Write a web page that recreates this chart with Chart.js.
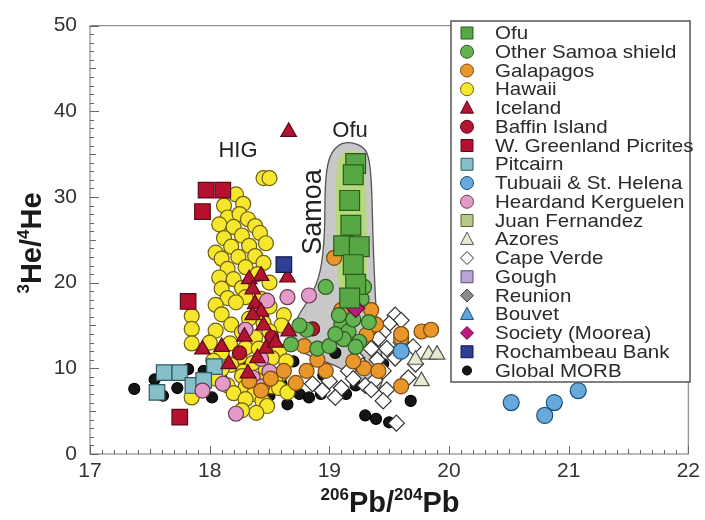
<!DOCTYPE html>
<html>
<head>
<meta charset="utf-8">
<script src="https://cdn.jsdelivr.net/npm/chart.js@4.4.0/dist/chart.umd.min.js"></script>
<style>
  html, body { margin: 0; padding: 0; background: #fff; }
  #wrap { width: 705px; height: 520px; }
</style>
</head>
<body>
<div id="wrap"><canvas id="chart" width="705" height="520"></canvas></div>
<script>
// axis ranges / ticks
const xRange = [17, 22];
const yRange = [0, 50];

// series values: [206Pb/204Pb, 3He/4He]
const ofu = [[19.22,33.9],[19.2,32.6],[19.17,29.6],[19.18,26.7],[19.12,24.3],[19.25,24.2],[19.2,22.1],[19.22,19.8],[19.17,18.2]];
const samoaShield = [[18.97,19.5],[18.81,14.5],[18.9,12.3],[19.0,12.6],[18.68,12.8],[19.1,15.1],[19.08,16.2],[19.16,14.3],[19.25,13.1],[19.27,18.1],[19.29,19.5],[19.2,15.7],[19.12,13.4],[19.33,15.4],[19.05,14.0],[19.22,12.5],[18.75,15.0]];
const galapagos = [[19.04,22.9],[19.1,16.8],[19.35,16.8],[19.39,15.1],[19.31,13.9],[19.6,13.5],[19.77,14.3],[19.85,14.5],[18.79,12.6],[18.62,9.7],[18.81,9.7],[18.97,9.7],[18.51,8.8],[18.72,8.3],[19.29,10.0],[19.6,7.9],[19.6,14.0],[18.33,8.5],[18.43,7.4],[19.41,9.7],[19.2,10.8],[18.9,11.0]];
const hawaii = [[18.45,32.2],[18.5,32.2],[18.22,30.3],[18.12,29.0],[18.28,29.2],[18.15,27.6],[18.25,28.0],[18.32,27.4],[18.08,26.8],[18.2,26.5],[18.38,26.6],
  [18.12,25.2],[18.27,25.5],[18.42,25.8],[18.18,24.2],[18.33,24.3],[18.47,24.6],[18.05,23.5],[18.1,22.8],[18.24,23.0],[18.38,23.1],[18.15,21.6],[18.3,21.8],[18.45,22.3],
  [18.08,20.6],[18.2,20.4],[18.27,19.4],[18.4,21.0],[18.1,19.3],[18.5,20.0],[18.15,18.2],[18.3,18.3],[18.43,18.1],[18.05,17.4],[18.22,17.7],[18.5,17.2],[18.62,16.2],
  [17.85,16.1],[18.1,16.3],[18.33,15.8],[18.18,15.1],[18.45,15.3],[18.6,15.0],[17.85,14.6],[18.05,14.4],[18.27,14.2],[18.5,14.3],[18.38,13.6],
  [17.85,12.9],[18.0,13.0],[18.17,12.9],[18.3,12.4],[18.41,12.3],[18.58,12.0],[18.1,11.8],[18.25,11.4],[18.52,11.2],[18.64,10.8],[18.03,10.9],[18.18,10.4],[18.36,10.6],
  [18.1,9.9],[18.28,9.6],[18.47,9.8],[18.6,9.4],[18.27,9.1],[18.05,8.8],[18.4,8.6],[18.55,8.5],[18.15,8.0],[18.3,7.8],[18.52,7.9],[18.58,7.7],[18.2,7.1],[18.37,7.0],[18.65,7.2],
  [17.85,6.6],[18.3,6.4],[18.44,6.2],[18.48,5.6],[18.39,4.8],[18.27,5.1]];
const iceland = [[18.66,37.6],[18.65,20.6],[18.43,20.8],[18.33,20.4],[18.36,19.2],[18.38,17.5],[18.43,16.6],[18.36,16.2],[18.29,13.7],[18.66,14.3],[18.47,12.3],[17.94,12.2],[18.16,10.5],[18.55,13.0],[18.45,15.0],[18.4,11.2],[18.32,9.4],[18.1,12.5]];
const baffin = [[18.86,14.6],[18.52,13.6],[18.25,11.8]];
const greenland = [[17.97,30.8],[18.11,30.8],[17.94,28.3],[17.82,17.8],[17.75,4.3]];
const pitcairn = [[17.62,9.5],[17.75,9.5],[17.56,7.2],[17.86,8.0],[18.04,10.2],[17.95,8.6]];
const tubuaii = [[20.52,6.0],[20.8,4.5],[20.88,6.0],[21.08,7.4],[19.6,12.0]];
const heard = [[18.65,18.3],[18.83,18.5],[18.48,17.9],[18.3,14.5],[18.43,11.1],[18.36,8.9],[18.44,7.9],[18.22,4.7],[17.94,7.4],[18.11,8.2],[18.5,9.6]];
const juanFernandez = [];
const azores = [[19.83,11.6],[19.9,11.6],[19.77,8.5],[19.72,11.0]];
const capeVerde = [[19.55,16.2],[19.6,15.6],[19.5,15.2],[19.45,14.2],[19.41,13.5],[19.35,12.3],[19.48,12.3],[19.55,11.2],[19.23,11.2],[19.4,11.0],[19.28,10.3],[19.16,9.7],[19.45,9.7],
  [19.0,8.5],[19.2,8.8],[19.38,8.6],[19.1,7.7],[19.3,8.0],[19.35,7.5],[19.48,7.5],[19.05,6.6],[19.45,6.2],[19.72,10.5],[19.66,8.9],[19.56,3.6],[18.94,7.4],[18.86,8.2],[19.6,13.0],[19.7,12.5]];
const gough = [];
const reunion = [];
const bouvet = [];
const society = [[19.22,17.0]];
const rochambeau = [[18.62,22.1]];
const morb = [[17.37,7.6],[17.54,8.7],[17.61,6.8],[17.73,7.7],[17.82,9.9],[17.9,8.2],[18.02,6.6],[18.1,8.8],[18.2,7.3],[18.18,10.5],[18.31,10.5],[18.3,7.0],[18.5,6.8],[18.6,8.2],[18.7,10.8],
  [18.75,7.0],[18.83,6.6],[18.93,7.0],[19.05,11.8],[19.14,7.0],[19.22,8.0],[19.3,4.5],[19.39,4.1],[19.5,3.7],[19.68,6.2],[18.45,9.3],[18.95,9.2],[19.45,10.5],[17.95,9.7],[18.65,5.8]];

// outlines of the Samoa envelope and Ofu field (data units)
const samoaField = [[19.163,36.41],[19.263,36.06],[19.329,35.02],[19.354,31.57],[19.363,25.81],[19.379,20.05],[19.396,15.44],[19.438,11.98],[19.454,8.53],[19.396,7.14],[19.288,7.95],[19.121,9.91],[18.913,11.06],[18.747,11.98],[18.681,13.71],[18.73,16.01],[18.847,18.32],[18.93,21.2],[18.963,25.81],[18.963,31.57],[18.997,34.79],[19.08,36.18]];
const ofuField = [[19.121,35.37],[19.246,35.37],[19.304,33.87],[19.313,25.81],[19.313,17.74],[19.205,17.17],[19.08,17.74],[19.055,25.81],[19.055,33.87]];

const FONT = "'Liberation Sans', Arial, Helvetica, sans-serif";

// label, data, pointStyle, fill, stroke, radius, draw order (lower = on top)
const seriesDefs = [
  ['Ofu', ofu, 'rect', '#57a844', '#2c5a1f', 14, 0],
  ['Other Samoa shield', samoaShield, 'circle', '#63b450', '#2f5a25', 7.5, 6],
  ['Galapagos', galapagos, 'circle', '#e9962b', '#7a4a12', 7.5, 8],
  ['Hawaii', hawaii, 'circle', '#f6e72c', '#6e5f12', 7.5, 12],
  ['Iceland', iceland, 'triangle', '#b3142f', '#5a0a18', 9, 5],
  ['Baffin Island', baffin, 'circle', '#b3142f', '#5a0a18', 7, 7],
  ['W. Greenland Picrites', greenland, 'rect', '#b5112e', '#5a0a18', 11, 4],
  ['Pitcairn', pitcairn, 'rect', '#86bfc8', '#2f5a60', 11, 11],
  ['Tubuaii & St. Helena', tubuaii, 'circle', '#66a9dc', '#1f4f70', 8, 3],
  ['Heardand Kerguelen', heard, 'circle', '#e59bc7', '#6a3a55', 7.5, 9],
  ['Juan Fernandez', juanFernandez, 'rect', '#b6c98a', '#55613a', 10, 10],
  ['Azores', azores, 'triangle', '#e6ead0', '#555555', 9, 13],
  ['Cape Verde', capeVerde, 'rectRot', '#ffffff', '#333333', 8, 14],
  ['Gough', gough, 'rect', '#b8a4d6', '#5a4a70', 10, 10],
  ['Reunion', reunion, 'rectRot', '#8a8a8a', '#444444', 7, 10],
  ['Bouvet', bouvet, 'triangle', '#5aa6e0', '#1f4f70', 9, 10],
  ['Society (Moorea)', society, 'rectRot', '#c0187d', '#5a0a3a', 9, 2],
  ['Rochambeau Bank', rochambeau, 'rect', '#2e3f94', '#111a4a', 11, 1],
  ['Global MORB', morb, 'circle', '#151515', '#000000', 5.5, 15]
];

const datasets = seriesDefs.map(([label, pts, style, fill, stroke, r, order]) => ({
  label: label,
  data: pts.map(p => ({ x: p[0], y: p[1] })),
  pointStyle: style,
  backgroundColor: fill,
  borderColor: stroke,
  pointRadius: r,
  pointHoverRadius: r,
  pointBorderWidth: 1.2,
  order: order
}));

function toPx(chart, pts) {
  const xs = chart.scales.x, ys = chart.scales.y;
  return pts.map(p => [xs.getPixelForValue(p[0]), ys.getPixelForValue(p[1])]);
}

function smoothClosed(ctx, pts) {
  const n = pts.length;
  const mid = (a, b) => [(a[0] + b[0]) / 2, (a[1] + b[1]) / 2];
  const m0 = mid(pts[n - 1], pts[0]);
  ctx.moveTo(m0[0], m0[1]);
  for (let i = 0; i < n; i++) {
    const p = pts[i], m = mid(p, pts[(i + 1) % n]);
    ctx.quadraticCurveTo(p[0], p[1], m[0], m[1]);
  }
  ctx.closePath();
}

function drawMarker(ctx, style, x, y, r, fill, stroke) {
  ctx.beginPath();
  if (style === 'rect') ctx.rect(x - r, y - r, 2 * r, 2 * r);
  else if (style === 'triangle') {
    ctx.moveTo(x, y - r * 1.1); ctx.lineTo(x + r, y + r * 0.8); ctx.lineTo(x - r, y + r * 0.8); ctx.closePath();
  } else if (style === 'rectRot') {
    ctx.moveTo(x, y - r); ctx.lineTo(x + r, y); ctx.lineTo(x, y + r); ctx.lineTo(x - r, y); ctx.closePath();
  } else ctx.arc(x, y, r, 0, Math.PI * 2);
  ctx.fillStyle = fill; ctx.fill();
  ctx.lineWidth = 1; ctx.strokeStyle = stroke; ctx.stroke();
}

// text with superscript parts, centred on x
function drawSupText(ctx, parts, x, y, size, supSize) {
  const big = 'bold ' + size + 'px ' + FONT, small = 'bold ' + supSize + 'px ' + FONT;
  let w = 0;
  parts.forEach(p => { ctx.font = p[1] ? small : big; w += ctx.measureText(p[0]).width; });
  let cx = x - w / 2;
  ctx.textAlign = 'left';
  ctx.textBaseline = 'alphabetic';
  parts.forEach(p => {
    ctx.font = p[1] ? small : big;
    ctx.fillText(p[0], cx, p[1] ? y - size * 0.42 : y);
    cx += ctx.measureText(p[0]).width;
  });
}

const backdrop = {
  id: 'backdrop',
  beforeDatasetsDraw(chart) {
    const ctx = chart.ctx, a = chart.chartArea;
    const xs = chart.scales.x, ys = chart.scales.y;
    ctx.save();
    // Samoa envelope
    ctx.beginPath();
    smoothClosed(ctx, toPx(chart, samoaField));
    ctx.fillStyle = '#c8c8c8'; ctx.fill();
    ctx.lineWidth = 1.3; ctx.strokeStyle = '#555'; ctx.stroke();
    ctx.beginPath();
    smoothClosed(ctx, toPx(chart, ofuField));
    ctx.fillStyle = '#b7d97c'; ctx.fill();
    // frame
    ctx.strokeStyle = '#8a8a8a'; ctx.lineWidth = 1.2;
    ctx.strokeRect(a.left, a.top, a.right - a.left, a.bottom - a.top);
    // inner ticks
    ctx.strokeStyle = '#666'; ctx.lineWidth = 1;
    ctx.beginPath();
    for (let i = 0; i <= 50; i++) {
      const px = Math.round(xs.getPixelForValue(xRange[0] + i * 0.1)) + 0.5;
      const len = i % 10 === 0 ? 8 : (i % 5 === 0 ? 5 : 4);
      ctx.moveTo(px, a.bottom); ctx.lineTo(px, a.bottom - len);
      const py = Math.round(ys.getPixelForValue(i)) + 0.5;
      const ylen = i % 10 === 0 ? 9 : (i % 5 === 0 ? 6 : 4);
      ctx.moveTo(a.left, py); ctx.lineTo(a.left + ylen, py);
    }
    ctx.stroke();
    ctx.restore();
  },
  afterDatasetsDraw(chart) {
    const ctx = chart.ctx;
    ctx.save();
    ctx.fillStyle = '#222';
    // annotations
    ctx.font = '22px ' + FONT;
    ctx.textAlign = 'center'; ctx.textBaseline = 'middle';
    ctx.fillText('HIG', 238, 151);
    ctx.fillText('Ofu', 350, 131);
    ctx.save();
    ctx.translate(321, 212); ctx.rotate(-Math.PI / 2);
    ctx.font = '27px ' + FONT; ctx.textBaseline = 'alphabetic';
    ctx.fillText('Samoa', 0, 0);
    ctx.restore();
    // axis titles
    ctx.fillStyle = '#1a1a1a';
    drawSupText(ctx, [['206', true], ['Pb/', false], ['204', true], ['Pb', false]], 390, 512, 29, 17);
    ctx.save();
    ctx.translate(41, 243); ctx.rotate(-Math.PI / 2);
    drawSupText(ctx, [['3', true], ['He/', false], ['4', true], ['He', false]], 0, 0, 29, 17);
    ctx.restore();
    // legend
    const lx = 451, ly = 21, lw = 239, lh = 361;
    ctx.fillStyle = '#fff';
    ctx.fillRect(lx, ly, lw, lh);
    ctx.strokeStyle = '#555'; ctx.lineWidth = 1.5;
    ctx.strokeRect(lx, ly, lw, lh);
    ctx.font = '19px ' + FONT;
    ctx.textAlign = 'left'; ctx.textBaseline = 'middle';
    seriesDefs.forEach((s, i) => {
      const y = 33 + i * 18.75;
      const r = s[0] === 'Global MORB' ? 4.5 : (s[2] === 'rect' ? 6 : 6.5);
      drawMarker(ctx, s[2], 467, y, r, s[3], s[4]);
      ctx.fillStyle = '#2a2a2a';
      ctx.save();
      ctx.translate(495, y + 1);
      ctx.scale(1.08, 1);
      ctx.fillText(s[0], 0, 0);
      ctx.restore();
    });
    ctx.restore();
  }
};

new Chart(document.getElementById('chart'), {
  type: 'scatter',
  data: { datasets: datasets },
  options: {
    responsive: false,
    animation: false,
    events: [],
    layout: { padding: { left: 0, top: 20, right: 14, bottom: 0 } },
    plugins: { legend: { display: false }, tooltip: { enabled: false } },
    scales: {
      x: {
        type: 'linear', min: xRange[0], max: xRange[1],
        grid: { display: false, drawTicks: false },
        border: { display: false },
        ticks: { stepSize: 1, padding: 5, color: '#333', font: { family: FONT, size: 21 } },
        afterFit(scale) { scale.height = 66; }
      },
      y: {
        min: yRange[0], max: yRange[1],
        grid: { display: false, drawTicks: false },
        border: { display: false },
        ticks: { stepSize: 10, padding: 13, color: '#333', font: { family: FONT, size: 21 } },
        afterFit(scale) { scale.width = 90; }
      }
    }
  },
  plugins: [backdrop]
});
</script>
</body>
</html>
